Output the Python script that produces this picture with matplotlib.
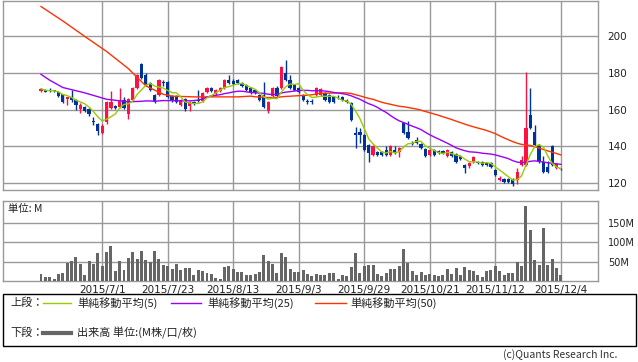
import matplotlib
matplotlib.use('Agg')
import matplotlib.pyplot as plt
from matplotlib.lines import Line2D
from matplotlib.patches import Rectangle
import numpy as np
import pandas as pd

# ---------------- data ----------------
opens = [170.2, 170.6, 170.5, 170.6, 169.5, 168.4, 165.7, 166.8, 165.2, 160.3,
         161.4, 160.3, 153.6, 152.1, 147.2, 153.2, 160.8, 161.9, 161.4, 165.2,
         157.6, 165.2, 171.7, 184.8, 178.8, 174.4, 167.9, 167.9, 174.5, 175.0,
         167.4, 167.4, 162.5, 165.7, 161.9, 164.1, 164.7, 164.6, 169.5, 171.7,
         168.4, 170.1, 171.7, 176.1, 175.5, 176.1, 174.4, 173.3, 171.7, 170.6,
         167.9, 167.9, 159.2, 167.4, 171.7, 171.7, 179.9, 176.1, 173.3, 171.7,
         167.9, 164.4, 164.5, 167.9, 167.9, 169.0, 167.9, 166.8, 166.9, 166.8,
         165.2, 163.5, 147.2, 147.7, 146.1, 140.7, 135.2, 136.9, 136.9, 137.9,
         135.2, 137.9, 136.9, 152.7, 147.7, 141.5, 143.4, 141.2, 138.5, 135.2,
         137.9, 137.4, 137.4, 134.7, 136.9, 135.8, 134.7, 129.8, 129.3, 131.4,
         131.4, 131.4, 130.9, 130.9, 127.1, 121.6, 122.2, 122.2, 122.2, 121.6,
         129.8, 129.8, 157.0, 147.7, 140.7, 131.4, 128.7, 140.2, 128.2, 127.8]
highs = [172.0, 171.2, 171.6, 171.0, 170.0, 168.8, 167.2, 170.6, 165.6, 163.5,
         161.8, 160.8, 156.0, 152.5, 152.0, 164.6, 170.1, 162.4, 171.7, 166.8,
         166.2, 172.2, 179.3, 185.3, 180.0, 175.0, 168.4, 176.6, 176.0, 175.5,
         167.9, 167.9, 165.7, 166.2, 164.6, 164.6, 170.6, 169.5, 172.2, 172.2,
         171.1, 172.2, 176.6, 178.8, 176.6, 176.6, 174.9, 173.8, 172.2, 171.1,
         168.4, 175.0, 164.6, 172.2, 172.8, 183.6, 186.9, 178.8, 173.8, 172.2,
         168.4, 166.0, 165.8, 172.2, 172.0, 169.5, 168.4, 167.3, 168.0, 167.3,
         165.7, 164.0, 150.5, 150.0, 146.6, 141.2, 140.6, 137.4, 137.4, 140.0,
         140.6, 140.0, 139.6, 153.2, 154.0, 143.0, 145.0, 141.7, 139.0, 138.5,
         138.4, 137.9, 137.9, 138.5, 137.4, 136.3, 135.2, 130.3, 131.4, 134.7,
         131.9, 131.9, 131.4, 131.4, 127.6, 124.0, 122.7, 122.7, 122.7, 128.0,
         134.5, 180.4, 171.7, 151.5, 141.2, 135.0, 132.0, 140.7, 130.8, 128.3]
lows = [169.8, 169.4, 169.4, 169.8, 167.0, 163.8, 162.5, 164.1, 159.7, 158.1,
        158.8, 156.5, 151.6, 146.1, 146.8, 152.1, 160.3, 160.3, 161.0, 160.3,
        154.8, 164.8, 171.2, 176.8, 172.8, 170.1, 163.5, 167.4, 173.0, 166.3,
        164.1, 163.6, 162.0, 159.2, 159.2, 162.5, 164.1, 164.1, 169.0, 169.6,
        167.9, 169.6, 171.2, 173.9, 173.4, 173.9, 172.3, 170.1, 168.5, 168.5,
        164.7, 160.9, 158.1, 166.9, 166.9, 171.2, 175.6, 171.2, 170.1, 169.0,
        164.7, 163.0, 163.0, 167.4, 167.4, 164.7, 163.6, 163.6, 165.8, 164.7,
        163.6, 153.8, 139.1, 142.0, 137.5, 131.4, 134.7, 134.7, 134.7, 134.7,
        134.7, 135.8, 134.0, 146.7, 144.0, 140.5, 141.3, 138.6, 134.2, 134.7,
        134.7, 135.8, 135.8, 134.2, 134.2, 130.9, 132.6, 125.5, 128.0, 130.9,
        130.4, 129.3, 129.3, 128.2, 123.9, 121.1, 120.1, 120.1, 118.5, 119.5,
        129.3, 129.3, 149.4, 140.2, 130.9, 125.5, 125.5, 129.3, 127.7, 127.1]
closes = [171.5, 169.7, 170.0, 170.1, 167.4, 164.1, 166.8, 165.2, 162.5, 162.5,
          159.2, 157.6, 153.2, 148.3, 151.0, 164.1, 164.1, 160.8, 164.6, 160.8,
          165.7, 171.7, 178.8, 177.2, 173.3, 170.6, 164.6, 176.1, 174.4, 166.8,
          164.6, 164.1, 165.2, 160.3, 164.1, 163.0, 164.6, 169.0, 171.7, 170.1,
          170.6, 171.7, 176.1, 174.4, 173.9, 174.4, 172.8, 170.6, 169.0, 169.0,
          165.2, 161.4, 164.1, 171.7, 167.4, 183.1, 176.1, 171.7, 170.6, 169.5,
          165.2, 164.1, 164.1, 171.7, 171.5, 165.2, 164.1, 164.1, 166.7, 165.2,
          164.1, 154.3, 146.1, 146.1, 138.0, 136.3, 140.1, 135.2, 135.2, 135.2,
          140.1, 136.3, 139.1, 147.2, 144.5, 141.2, 141.8, 139.1, 134.7, 138.0,
          135.2, 136.3, 136.3, 138.0, 134.7, 131.4, 133.1, 128.2, 130.9, 134.2,
          130.9, 129.8, 129.8, 128.7, 124.4, 122.7, 120.6, 120.6, 119.5, 126.0,
          132.5, 150.0, 149.9, 140.7, 131.4, 126.0, 126.0, 129.8, 130.3, 127.6]
volumes = [19.4, 9.7, 9.7, 6.2, 17.5, 21.0, 45.5, 52.4, 62.8, 44.5,
           14.9, 51.6, 44.5, 73.3, 39.3, 75.1, 90.8, 26.2, 50.8, 28.0,
           59.4, 75.1, 56.8, 77.7, 54.2, 49.7, 77.7, 56.8, 41.1, 39.3,
           30.6, 43.7, 28.0, 33.2, 33.2, 14.9, 28.0, 25.4, 20.2, 17.5,
           8.9, 6.2, 35.0, 38.5, 29.8, 23.6, 23.6, 14.9, 14.9, 17.5,
           23.6, 67.3, 51.6, 43.7, 21.0, 73.3, 61.2, 30.6, 23.6, 23.6,
           28.0, 17.5, 12.3, 17.5, 14.9, 14.9, 20.9, 20.9, 4.4, 14.9,
           12.3, 36.7, 73.3, 20.9, 38.5, 41.1, 41.1, 17.5, 12.3, 20.9,
           30.6, 30.6, 38.5, 83.0, 47.1, 26.2, 14.9, 23.6, 14.9, 17.5,
           14.9, 12.3, 14.9, 30.6, 17.5, 33.2, 14.9, 35.0, 28.0, 25.4,
           14.9, 10.5, 25.4, 28.0, 38.5, 25.4, 14.9, 20.9, 20.9, 49.7,
           38.5, 193.7, 130.9, 54.2, 41.1, 138.0, 41.1, 56.8, 33.2, 14.9]

ma25_head_idx = [0, 2, 5, 10, 15, 20, 23]
ma25_head_val = [179.3, 176.1, 172.1, 169.2, 165.7, 164.3, 164.6]
ma50_head_idx = [0, 5, 10, 15, 20, 24, 28, 30, 35, 40, 45, 48]
ma50_head_val = [216.3, 208.4, 200.0, 191.8, 182.4, 173.0, 168.4, 167.4, 167.0, 167.0, 167.0, 167.4]

tick_idx = [14, 29, 44, 59, 74, 89, 104, 119]
tick_labels = ["2015/7/1", "2015/7/23", "2015/8/13", "2015/9/3",
               "2015/9/29", "2015/10/21", "2015/11/12", "2015/12/4"]
price_ticks = [120, 140, 160, 180, 200]
vol_ticks = [50, 100, 150]
vol_tick_labels = ["50M", "100M", "150M"]

# ---------------- styling ----------------
UP = '#FF1040'
DOWN = '#003399'
C5 = '#99CC00'
C25 = '#9900FF'
C50 = '#FF3300'
GRID = '#999999'
VOL = '#666666'
JP = ['Noto Sans CJK JP', 'DejaVu Sans']

W, H = 638, 362
fig = plt.figure(figsize=(W / 100, H / 100), dpi=100)

def fx(px):
    return px / W

def fy(py):
    return 1 - py / H

ax1 = fig.add_axes([fx(3), fy(190), fx(598) - fx(3), fy(1) - fy(190)])
ax2 = fig.add_axes([fx(3), fy(281), fx(598) - fx(3), fy(201) - fy(281)])

n = len(closes)
x = np.arange(n)
o = np.array(opens); c = np.array(closes)
hi = np.array(highs); lo = np.array(lows)
up = c >= o
colors = np.where(up, UP, DOWN)

for ax in (ax1, ax2):
    for t in tick_idx:
        ax.axvline(t, color=GRID, lw=1.0, zorder=0)
    for s in ax.spines.values():
        s.set_color(GRID)
        s.set_linewidth(1.0)
    ax.set_xlim(-8.7, 127.5)

for yv in price_ticks:
    ax1.axhline(yv, color=GRID, lw=1.0, zorder=0)
for yv in vol_ticks:
    ax2.axhline(yv, color=GRID, lw=1.0, zorder=0)

# candles
ax1.vlines(x, lo, hi, colors=colors, lw=1.0, zorder=2)
body_bottom = np.minimum(o, c)
body_h = np.maximum(np.abs(c - o), 0.45)
ax1.bar(x, body_h, bottom=body_bottom, width=0.74, color=colors, zorder=3, linewidth=0)

# moving averages
cs = pd.Series(closes)
ma5 = cs.rolling(5, min_periods=1).mean().values
ma25 = cs.rolling(25).mean().values
ma50 = cs.rolling(50).mean().values
ma25_x = list(ma25_head_idx) + list(range(24, n))
ma25_y = list(ma25_head_val) + list(ma25[24:])
ma50_x = list(ma50_head_idx) + list(range(49, n))
ma50_y = list(ma50_head_val) + list(ma50[49:])
ax1.plot(ma50_x, ma50_y, color=C50, lw=1.0, zorder=4)
ax1.plot(ma25_x, ma25_y, color=C25, lw=1.0, zorder=4)
ax1.plot(x, ma5, color=C5, lw=1.0, zorder=5)

ax1.set_ylim(116.2, 219.3)
ax1.yaxis.tick_right()
ax1.set_yticks(price_ticks)
ax1.set_yticklabels([str(v) for v in price_ticks])
ax1.tick_params(axis='y', length=0, pad=7, labelsize=7.5, labelcolor='#222222')
ax1.set_xticks([])

# volume
ax2.bar(x, volumes, width=0.68, color=VOL, zorder=3, linewidth=0)
ax2.set_ylim(0, 207)
ax2.yaxis.tick_right()
ax2.set_yticks(vol_ticks)
ax2.set_yticklabels(vol_tick_labels)
ax2.tick_params(axis='y', length=0, pad=7, labelsize=7, labelcolor='#222222')
ax2.set_xticks(tick_idx)
ax2.set_xticklabels(tick_labels)
ax2.tick_params(axis='x', length=0, pad=3, labelsize=7.5, labelcolor='#222222')
ax2.text(fx(8), fy(209), "単位: M", transform=fig.transFigure, family=JP,
         fontsize=7.5, va='center', ha='left', color='#222222')

# legend box
fig.add_artist(Rectangle((fx(3), fy(346)), fx(636) - fx(3), fy(294) - fy(346),
                         transform=fig.transFigure, fill=False, edgecolor='black', lw=1.0))

def legline(x0, x1, y, color, lw):
    fig.add_artist(Line2D([fx(x0), fx(x1)], [fy(y), fy(y)], transform=fig.transFigure,
                          color=color, lw=lw))

def legtext(xp, y, s):
    fig.text(fx(xp), fy(y), s, family=JP, fontsize=8, va='center', ha='left', color='#222222')

legtext(10, 303, "上段：")
legline(43, 71, 303, C5, 1.0)
legtext(77, 303, "単純移動平均(5)")
legline(171, 201, 303, C25, 1.0)
legtext(207, 303, "単純移動平均(25)")
legline(315, 346, 303, C50, 1.0)
legtext(350, 303, "単純移動平均(50)")
legtext(10, 333, "下段：")
legline(43, 71, 333, VOL, 3.0)
legtext(77, 333, "出来高 単位:(M株/口/枚)")

fig.text(fx(617), fy(355), "(c)Quants Research Inc.", family=JP, fontsize=7.5,
         va='center', ha='right', color='#333333')

fig.savefig('out.png', dpi=100, facecolor='white')
